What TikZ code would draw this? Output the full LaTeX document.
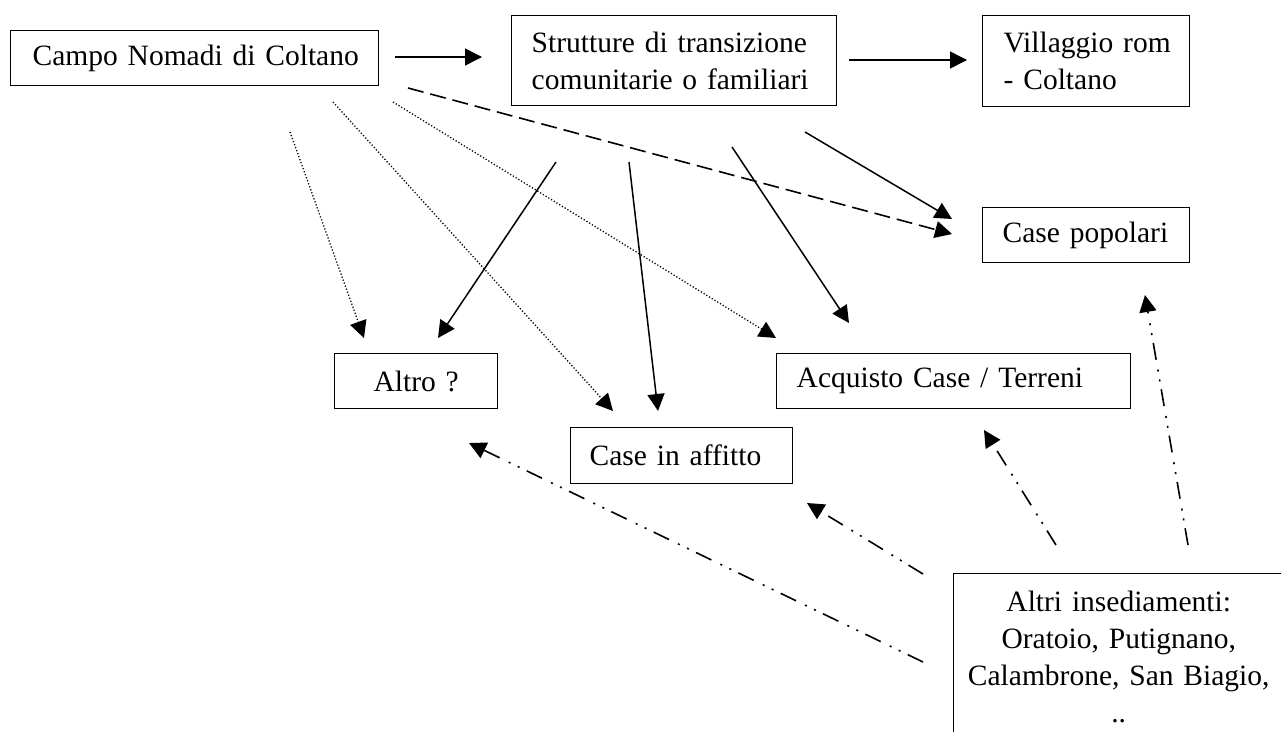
\documentclass[tikz,border=0pt]{standalone}
\usepackage{fontspec}
\setmainfont{Liberation Serif}
\usetikzlibrary{arrows.meta}
\newcommand{\dfont}{\fontsize{29.5}{37}\selectfont}
\begin{document}
\begin{tikzpicture}[x=1pt,y=-1pt,
  box/.style={draw,line width=1.4pt,anchor=north west,align=left,font=\dfont,inner ysep=0pt},
  con/.style={line width=1.5pt,-{Triangle[length=17pt,width=17pt]}},
  dotln/.style={con,line width=1.3pt,dash pattern=on 1.2pt off 2pt},
  dashln/.style={con,line width=1.6pt,dash pattern=on 16pt off 7pt},
  ddotln/.style={con,line width=1.6pt,dash pattern=on 17pt off 8pt on 2pt off 8pt on 2pt off 10pt}]
\useasboundingbox (0,0) rectangle (1281,731);
\clip (0,0) rectangle (1281,731);
\fill[white] (0,0) rectangle (1281,731);
% boxes
\node[box,text width=324pt,inner xsep=22pt,minimum height=55pt] (campo) at (10,30) {\mbox{Campo Nomadi di Coltano}};
\node[box,text width=285pt,inner xsep=20pt,minimum height=90pt] (strut) at (511,15) {\mbox{Strutture di transizione}\\\mbox{comunitarie o familiari}};
\node[box,text width=165pt,inner xsep=21pt,minimum height=91pt] (vill) at (982,15) {\mbox{Villaggio rom}\\\mbox{- Coltano}};
\node[box,text width=167pt,inner xsep=20pt,minimum height=55pt] (pop) at (982,207) {\mbox{Case popolari}};
\node[box,text width=314pt,inner xsep=20pt,minimum height=55pt] (acq) at (776,353) {\mbox{Acquisto Case / Terreni}};
\node[box,align=center,text width=123pt,inner xsep=20pt,minimum height=55pt] (altro) at (334,353) {\mbox{Altro ?}};
\node[box,text width=184pt,inner xsep=19pt,minimum height=56pt] (affitto) at (570,427) {\mbox{Case in affitto}};
\node[box,align=center,text width=310pt,inner xsep=10pt,inner ysep=17pt,text depth=160pt] (altri) at (953,573) {Altri insediamenti:\\Oratoio, Putignano,\\Calambrone, San Biagio,\\..};
% connector end points
\coordinate (a1s) at (395,57);   \coordinate (a1e) at (482,57);
\coordinate (a2s) at (849,60);   \coordinate (a2e) at (967,60);
\coordinate (dss) at (408,88);   \coordinate (dse) at (952,234);
\coordinate (s4s) at (805,132);  \coordinate (s4e) at (952,219);
\coordinate (s5s) at (732,147);  \coordinate (s5e) at (849,323);
\coordinate (s6s) at (556,162);  \coordinate (s6e) at (438,338);
\coordinate (s7s) at (629,162);  \coordinate (s7e) at (658,411);
\coordinate (d8s) at (290,132);  \coordinate (d8e) at (364,338);
\coordinate (d9s) at (333,102);  \coordinate (d9e) at (613,411);
\coordinate (d10s) at (393,102); \coordinate (d10e) at (776,338);
\coordinate (c11s) at (923,662); \coordinate (c11e) at (469,443);
\coordinate (c12s) at (923,574); \coordinate (c12e) at (807,503);
\coordinate (c13s) at (1056,545);\coordinate (c13e) at (984,430);
\coordinate (c14s) at (1188,545);\coordinate (c14e) at (1145,295);
% connectors
\draw[con] (a1s) -- (a1e);
\draw[con] (a2s) -- (a2e);
\draw[dashln] (dss) -- (dse);
\draw[con] (s4s) -- (s4e);
\draw[con] (s5s) -- (s5e);
\draw[con] (s6s) -- (s6e);
\draw[con] (s7s) -- (s7e);
\draw[dotln] (d8s) -- (d8e);
\draw[dotln] (d9s) -- (d9e);
\draw[dotln] (d10s) -- (d10e);
\draw[ddotln] (c11s) -- (c11e);
\draw[ddotln] (c12s) -- (c12e);
\draw[ddotln] (c13s) -- (c13e);
\draw[ddotln] (c14s) -- (c14e);
\end{tikzpicture}
\end{document}
